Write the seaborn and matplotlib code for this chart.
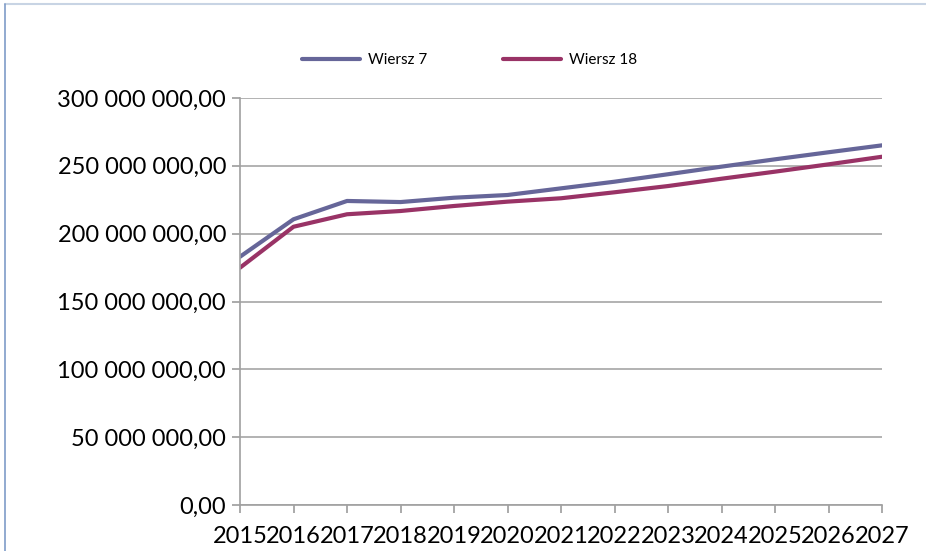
import pandas as pd
import seaborn as sns
import matplotlib.pyplot as plt
from matplotlib.lines import Line2D
from matplotlib.ticker import FuncFormatter

years = [2015, 2016, 2017, 2018, 2019, 2020, 2021, 2022, 2023, 2024, 2025, 2026, 2027]
wiersz_7 = [183.0, 210.6, 224.1, 223.3, 226.5, 228.5, 233.4, 238.3, 243.8, 249.4, 254.8, 260.0, 265.1]
wiersz_18 = [174.9, 205.1, 214.3, 216.7, 220.4, 223.6, 226.1, 230.5, 235.1, 240.5, 245.7, 251.1, 256.7]
series_names = ["Wiersz 7", "Wiersz 18"]
colors = ["#666699", "#993366"]

# long form table for seaborn (values in millions -> units)
df = pd.DataFrame({
    "rok": years * 2,
    "wartosc": [v * 1e6 for v in wiersz_7 + wiersz_18],
    "seria": [series_names[0]] * len(years) + [series_names[1]] * len(years),
})

sns.set_theme(style="white")
plt.rcParams["font.family"] = ["Lato", "DejaVu Sans"]

fig = plt.figure(figsize=(9.26, 5.51), dpi=100)
ax = fig.add_axes([240 / 926, 1 - 505 / 551, (882 - 240) / 926, (505 - 98) / 551])

sns.lineplot(data=df, x="rok", y="wartosc", hue="seria", palette=colors,
             hue_order=series_names, linewidth=3, ax=ax, legend=False)

ax.set_xlim(2015, 2027)
ax.set_ylim(0, 300e6)
ax.set_xticks(years)
ax.set_xticklabels([str(y) for y in years])
ax.set_yticks([i * 50e6 for i in range(7)])


def pl_format(v, pos):
    s = f"{v:,.2f}"
    return s.replace(",", " ").replace(".", ",")


ax.yaxis.set_major_formatter(FuncFormatter(pl_format))
ax.tick_params(axis="y", labelsize=17, labelcolor="black", length=6, color="#a0a0a0", left=True, pad=4)
ax.tick_params(axis="x", labelsize=17, labelcolor="black", length=6, color="#a0a0a0", bottom=True, pad=9)
ax.set_xlabel("")
ax.set_ylabel("")

ax.grid(axis="y", color="#a6a6a6", linewidth=1.2)
ax.grid(axis="x", visible=False)
for side in ["top", "right"]:
    ax.spines[side].set_visible(False)
for side in ["left", "bottom"]:
    ax.spines[side].set_color("#a0a0a0")
    ax.spines[side].set_linewidth(1.2)

handles = [Line2D([0], [0], color=c, lw=3) for c in colors]
fig.legend(handles, series_names, loc="center left", bbox_to_anchor=(302 / 926, 1 - 60 / 551),
           ncol=2, frameon=False, fontsize=11, labelcolor="black", handlelength=3.8,
           handletextpad=0.55, columnspacing=4.9, borderpad=0, borderaxespad=0)

# outer chart frame (top and left edges visible)
fig.add_artist(Line2D([5 / 926, 1], [1 - 4 / 551, 1 - 4 / 551], color="#c8d4e4", lw=1.5))
fig.add_artist(Line2D([5 / 926, 5 / 926], [0, 1 - 4 / 551], color="#7f9cc8", lw=1.2))

fig.savefig("out.png", dpi=100)
